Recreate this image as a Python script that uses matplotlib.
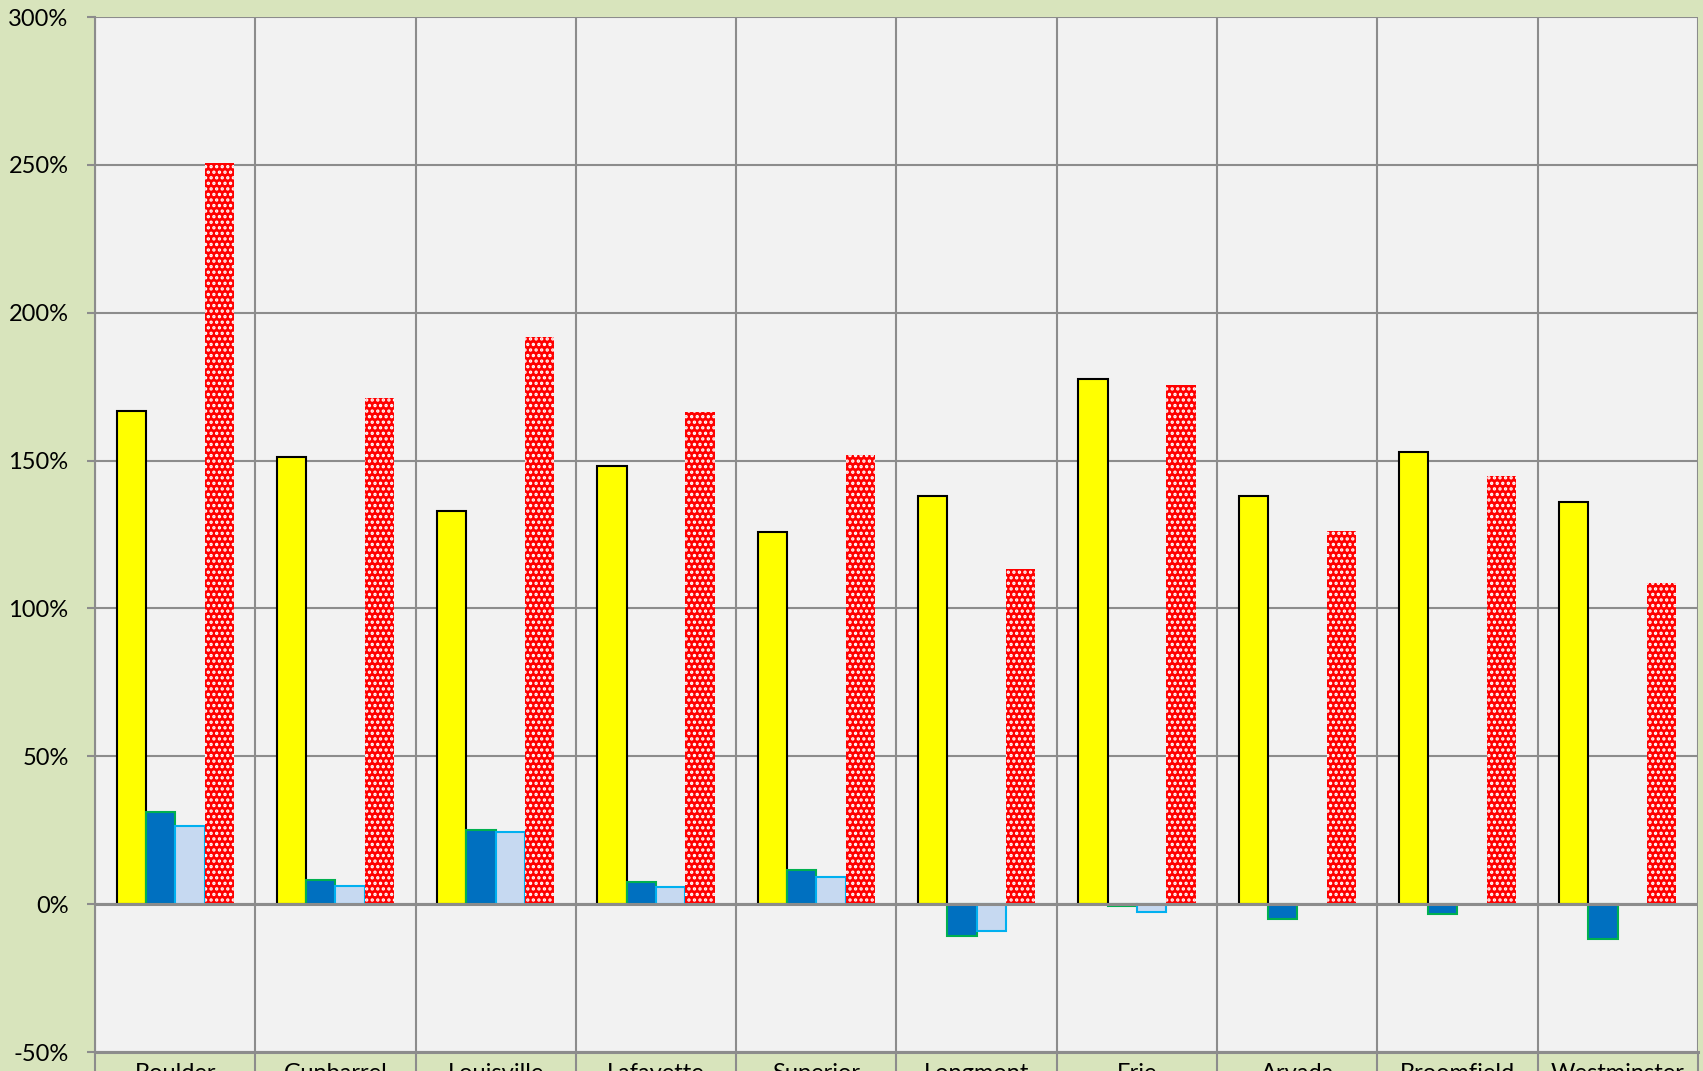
"""
percent change by city, grouped bars (excel-style look)
"""

import numpy as np
import matplotlib
matplotlib.use("Agg")
import matplotlib.pyplot as plt
from matplotlib.ticker import FuncFormatter, FixedLocator

# data (percent)
# --------------------------
cities = ["Boulder", "Gunbarrel", "Louisville", "Lafayette", "Superior",
          "Longmont", "Erie", "Arvada", "Broomfield", "Westminster"]

series_yellow = [166.9, 151.1, 133.1, 148.2, 125.7, 137.9, 177.6, 137.9, 152.9, 136.0]
series_dark_blue = [31.3, 8.1, 25.0, 7.4, 11.4, -10.7, -0.7, -5.1, -3.2, -11.8]
series_light_blue = [26.5, 6.3, 24.3, 5.9, 9.2, -9.2, -2.6, np.nan, np.nan, np.nan]
series_red = [250.7, 171.3, 191.9, 166.5, 151.8, 113.2, 175.7, 126.1, 144.9, 108.5]

y_ticks = [-50, 0, 50, 100, 150, 200, 250, 300]

# styling
# --------------------------
plt.rcParams["font.family"] = ["Lato", "DejaVu Sans"]
plt.rcParams["hatch.linewidth"] = 1.6

grid_col = "#8c8c8c"
fig = plt.figure(figsize=(17.03, 10.71), dpi=100, facecolor="#d8e4bc")
ax = fig.add_axes([0.0558, 0.0177, 0.9412, 0.9664])
ax.set_facecolor("#f2f2f2")

x = np.arange(len(cities))
w = 0.183
offsets = [-1.5 * w, -0.5 * w, 0.5 * w, 1.5 * w]

ax.bar(x + offsets[0], series_yellow, w, color="#ffff00", edgecolor="black", linewidth=1.5, zorder=3)
ax.bar(x + offsets[1], series_dark_blue, w, color="#0070c0", edgecolor="#00b050", linewidth=1.5, zorder=3)
ax.bar(x + offsets[2], series_light_blue, w, color="#c6d9f1", edgecolor="#00b0f0", linewidth=1.5, zorder=3)
ax.bar(x + offsets[3], series_red, w, color="#ff0000", edgecolor="white", linewidth=0,
       hatch="...", zorder=3)

# zero line over the bars
ax.axhline(0, color=grid_col, linewidth=2.2, zorder=4)

ax.set_xlim(-0.5, len(cities) - 0.5)
ax.set_ylim(-50, 300)

ax.set_yticks(y_ticks)
ax.yaxis.set_major_formatter(FuncFormatter(lambda v, p: f"{v:.0f}%"))
ax.tick_params(axis="y", length=6, width=1.5, color=grid_col, pad=13, labelsize=17)

# labels in the middle, tick marks on the category borders
ax.set_xticks(x)
ax.set_xticklabels(cities)
ax.xaxis.set_minor_locator(FixedLocator(np.arange(len(cities) + 1) - 0.5))
ax.tick_params(axis="x", which="major", length=0, pad=8, labelsize=17)
ax.tick_params(axis="x", which="minor", length=20, width=1.5, color=grid_col)

ax.grid(axis="y", which="major", color=grid_col, linewidth=1.5, zorder=0)
ax.grid(axis="x", which="minor", color=grid_col, linewidth=1.5, zorder=0)
ax.set_axisbelow(True)

for side in ["top", "right"]:
    ax.spines[side].set_visible(False)
ax.spines["left"].set_color(grid_col)
ax.spines["left"].set_linewidth(1.5)
ax.spines["bottom"].set_color(grid_col)
ax.spines["bottom"].set_linewidth(2.2)

fig.savefig("out.png", dpi=100, facecolor=fig.get_facecolor())
